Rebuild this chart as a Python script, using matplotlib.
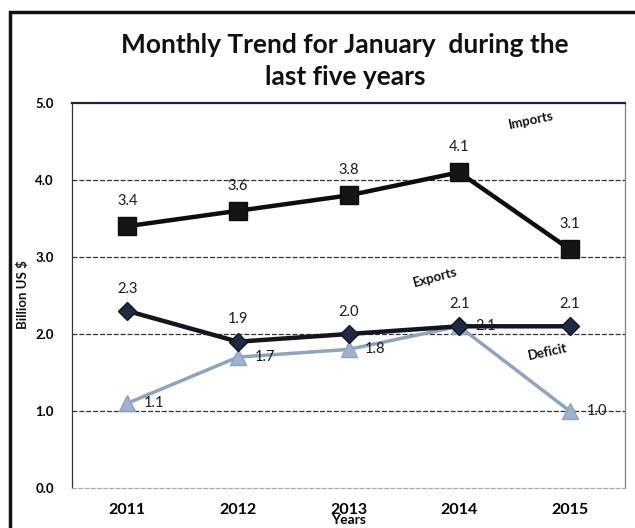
import matplotlib
matplotlib.use("Agg")
import matplotlib.pyplot as plt
from matplotlib.patches import Rectangle

years = ["2011", "2012", "2013", "2014", "2015"]
imports = [3.4, 3.6, 3.8, 4.1, 3.1]
exports = [2.3, 1.9, 2.0, 2.1, 2.1]
deficit = [1.1, 1.7, 1.8, 2.1, 1.0]
yticks = [0.0, 1.0, 2.0, 3.0, 4.0, 5.0]

plt.rcParams['font.family'] = ['Lato', 'DejaVu Sans']

fig = plt.figure(figsize=(6.35, 5.28), dpi=100)
fig.patch.set_facecolor('white')
ax = fig.add_axes([72/635, 1-488/528, (625-72)/635, (488-103)/528])

x = list(range(len(years)))

# gridlines
for v in [1.0, 2.0, 3.0, 4.0]:
    ax.axhline(v, color='#333333', lw=0.9, ls=(0, (4, 1.5)), zorder=1)

ax.plot(x, deficit, color='#8ea3bd', lw=2.5, marker='^', ms=12,
        markerfacecolor='#9fb2cb', markeredgecolor='#8ea3bd', zorder=3)
ax.plot(x, exports, color='#14141f', lw=3.2, marker='D', ms=9,
        markerfacecolor='#1f2a44', markeredgecolor='#14141f', zorder=4)
ax.plot(x, imports, color='#0d0d0d', lw=3.2, marker='s', ms=13,
        markerfacecolor='#151515', markeredgecolor='#0d0d0d', zorder=4)

for xi, v in zip(x, imports):
    ax.annotate(f"{v:.1f}", (xi, v), xytext=(0, 18), textcoords='offset points',
                ha='center', va='center', fontsize=10.5, color='#1a1a1a')
for xi, v in zip(x, exports):
    ax.annotate(f"{v:.1f}", (xi, v), xytext=(0, 16), textcoords='offset points',
                ha='center', va='center', fontsize=10.5, color='#1a1a1a')
for xi, v in zip(x, deficit):
    ax.annotate(f"{v:.1f}", (xi, v), xytext=(12, 0), textcoords='offset points',
                ha='left', va='center', fontsize=10.5, color='#1a1a1a')

ax.text(3.65, 4.78, "Imports", rotation=12, fontsize=9.5, fontweight='bold',
        ha='center', va='center', color='#111111')
ax.text(2.78, 2.73, "Exports", rotation=15, fontsize=9.5, fontweight='bold',
        ha='center', va='center', color='#111111')
ax.text(3.80, 1.77, "Deficit", rotation=12, fontsize=9.5, fontweight='bold',
        ha='center', va='center', color='#111111')

ax.set_xlim(-0.5, 4.5)
ax.set_ylim(0, 5.0)
ax.set_xticks(x)
ax.set_xticklabels(years, fontsize=11.5, fontweight='bold')
ax.set_yticks(yticks)
ax.set_yticklabels([f"{v:.1f}" for v in yticks], fontsize=9.5, fontweight='bold')
ax.tick_params(axis='x', length=0, pad=11)
ax.tick_params(axis='y', length=0, pad=13)

ax.spines['top'].set_color('#222233')
ax.spines['top'].set_linewidth(1.6)
ax.spines['left'].set_color('#333333')
ax.spines['left'].set_linewidth(0.9)
ax.spines['right'].set_color('#6a7fa8')
ax.spines['right'].set_linewidth(0.9)
ax.spines['bottom'].set_color('#aaaaaa')
ax.spines['bottom'].set_linewidth(0.9)
ax.spines['bottom'].set_linestyle((0, (3, 2)))

fig.text(23/635, 1-295/528, "Billion US $", rotation=90, ha='center', va='center',
         fontsize=9.5, fontweight='bold', color='#111111')
ax.set_xlabel("Years", fontsize=10, fontweight='bold', labelpad=-2)

fig.text(345/635, 1-45/528, "Monthly Trend for January  during the",
         ha='center', va='center', fontsize=19, fontweight='bold', color='#111111')
fig.text(345/635, 1-77/528, "last five years",
         ha='center', va='center', fontsize=19, fontweight='bold', color='#111111')

# outer frame
fig.patches.append(Rectangle((10/635, -0.05), 1.2, 1-12/528+0.05,
                             transform=fig.transFigure, fill=False,
                             edgecolor='#111111', lw=2.5, zorder=10))

fig.savefig("out.png", dpi=100, facecolor='white')
